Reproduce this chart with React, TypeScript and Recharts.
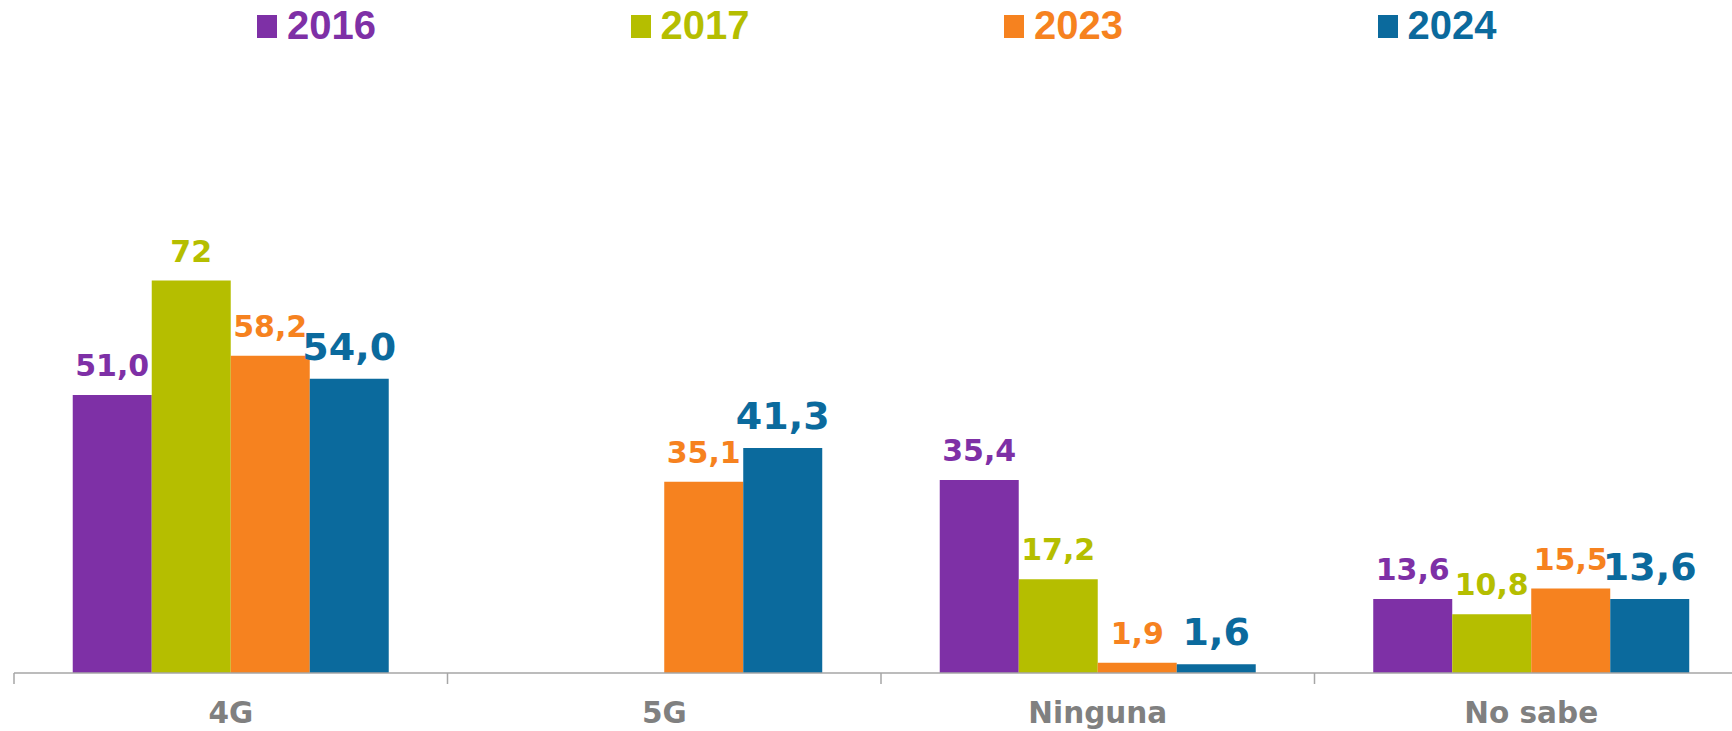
import { BarChart, Bar, XAxis, YAxis, LabelList } from "recharts"

const categories = ["4G", "5G", "Ninguna", "No sabe"]
const years = ["2016", "2017", "2023", "2024"]
const values2016 = [51.0, null, 35.4, 13.6]
const values2017 = [72, null, 17.2, 10.8]
const values2023 = [58.2, 35.1, 1.9, 15.5]
const values2024 = [54.0, 41.3, 1.6, 13.6]
const colors = ["#7E30A6", "#B5BE00", "#F6821F", "#0B6A9D"]

const seriesValues = [values2016, values2017, values2023, values2024]

const data = categories.map((name, i) => {
  const row: Record<string, string | number | null> = { name }
  years.forEach((y, k) => {
    row[y] = seriesValues[k][i]
  })
  return row
})

const CHART_W = 1762
const CHART_H = 731
const MARGIN = { top: 237, right: 14, bottom: 0, left: 14 }
const BAND = (CHART_W - MARGIN.left - MARGIN.right) / categories.length

const FONT = "'DejaVu Sans', sans-serif"

const formatValue = (year: string) => (v: any) => {
  if (v === null || v === undefined) return ""
  const n = Number(v)
  if (year === "2017" && Number.isInteger(n)) return String(n)
  return n.toFixed(1).replace(".", ",")
}

function CategoryTick(props: any) {
  const { x, y, payload } = props
  const edge = x - BAND / 2
  return (
    <g>
      <line x1={edge} y1={y} x2={edge} y2={y + 11} stroke="#A6A6A6" strokeWidth={1.5} />
      <text
        x={x}
        y={y + 50}
        textAnchor="middle"
        fill="#808080"
        fontFamily={FONT}
        fontWeight={700}
        fontSize={29.5}
      >
        {payload.value}
      </text>
    </g>
  )
}

export default function App() {
  return (
    <div
      style={{
        position: "absolute",
        left: 0,
        top: 0,
        width: 1732,
        height: 731,
        overflow: "hidden",
        background: "#fff",
      }}
    >
      <div style={{ position: "absolute", left: 0, top: 0, width: 1732, height: 50 }}>
        {years.map((y, k) => (
          <div
            key={y}
            style={{
              position: "absolute",
              left: 257 + k * 373.5,
              top: 0,
              height: 50,
              display: "flex",
              alignItems: "center",
            }}
          >
            <span
              style={{
                display: "inline-block",
                width: 20,
                height: 23,
                background: colors[k],
                marginRight: 10,
                marginTop: 2,
              }}
            />
            <span
              style={{
                fontFamily: "'Liberation Sans', Arial, sans-serif",
                fontWeight: 700,
                fontSize: 40,
                color: colors[k],
                lineHeight: "40px",
              }}
            >
              {y}
            </span>
          </div>
        ))}
      </div>
      <BarChart
        width={CHART_W}
        height={CHART_H}
        data={data}
        margin={MARGIN}
        barCategoryGap="13.55%"
        barGap={0}
      >
        <XAxis
          dataKey="name"
          height={58}
          axisLine={{ stroke: "#A6A6A6", strokeWidth: 1.5 }}
          tickLine={false}
          tickSize={0}
          tickMargin={0}
          interval={0}
          tick={<CategoryTick />}
        />
        <YAxis hide domain={[0, 80]} />
        {years.map((y, k) => (
          <Bar key={y} dataKey={y} fill={colors[k]} isAnimationActive={false}>
            <LabelList
              dataKey={y}
              position="top"
              offset={19}
              formatter={formatValue(y)}
              fill={colors[k]}
              style={{
                fontFamily: FONT,
                fontWeight: 700,
                fontSize: y === "2024" ? 38 : 30,
              }}
            />
          </Bar>
        ))}
      </BarChart>
    </div>
  )
}
